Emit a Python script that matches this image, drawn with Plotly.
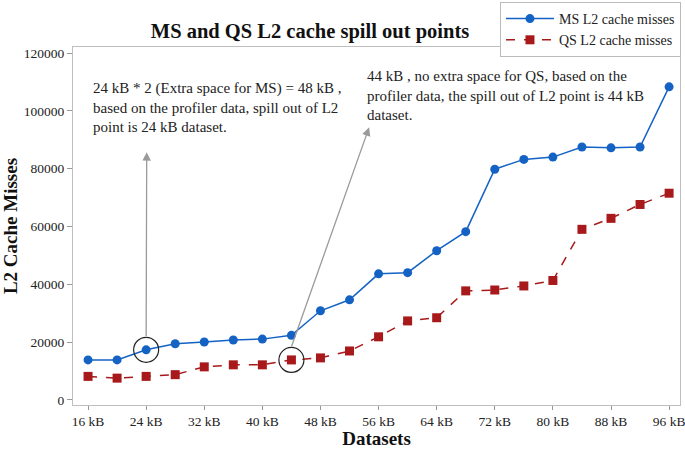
import plotly.graph_objects as go

datasets_kb = [16, 20, 24, 28, 32, 36, 40, 44, 48, 52, 56, 60, 64, 68, 72, 76, 80, 84, 88, 92, 96]
ms_misses = [13800, 13800, 17300, 19400, 20000, 20700, 21000, 22300, 30800, 34600, 43600, 44000,
             51600, 58200, 79800, 83200, 84000, 87500, 87200, 87500, 108300]
qs_misses = [8100, 7500, 8100, 8700, 11400, 12100, 12100, 13800, 14500, 16900, 21800, 27300,
             28400, 37700, 38000, 39400, 41300, 59000, 62800, 67600, 71500]
tick_vals = [16, 24, 32, 40, 48, 56, 64, 72, 80, 88, 96]
tick_text = [f"{v} kB" for v in tick_vals]
y_ticks = [0, 20000, 40000, 60000, 80000, 100000, 120000]

FONT = "Liberation Serif"

fig = go.Figure()
fig.add_trace(go.Scatter(
    x=datasets_kb, y=ms_misses, name="MS L2 cache misses", mode="lines+markers",
    line=dict(color="#1462C4", width=1.5),
    marker=dict(symbol="circle", size=9, color="#1462C4"),
))
fig.add_trace(go.Scatter(
    x=datasets_kb, y=qs_misses, name="QS L2 cache misses", mode="lines+markers",
    line=dict(color="#A8191C", width=1.5, dash="dash"),
    marker=dict(symbol="square", size=9, color="#A8191C"),
))

# circles around spill-out points
for xc, yc in [(datasets_kb[2], ms_misses[2]), (datasets_kb[7], qs_misses[7])]:
    fig.add_shape(type="circle", xref="x", yref="y", xsizemode="pixel", ysizemode="pixel",
                  xanchor=xc, yanchor=yc, x0=-12.5, x1=12.5, y0=-12.5, y1=12.5,
                  line=dict(color="#222222", width=1.2))

# arrows
fig.add_annotation(x=24.08, y=85700, ax=24.0, ay=21600, xref="x", yref="y", axref="x", ayref="y",
                   text="", showarrow=True, arrowhead=2, arrowsize=1.3, arrowwidth=1.3,
                   arrowcolor="#9a9a9a")
fig.add_annotation(x=54.7, y=94300, ax=43.95, ay=18000, xref="x", yref="y", axref="x", ayref="y",
                   text="", showarrow=True, arrowhead=2, arrowsize=1.3, arrowwidth=1.3,
                   arrowcolor="#9a9a9a")

fig.add_annotation(
    xref="paper", yref="paper", x=0.0297, y=0.913, xanchor="left", yanchor="top",
    text="24 kB * 2 (Extra space for MS) = 48 kB ,<br>based on the profiler data, spill out of L2<br>point is 24 kB dataset.",
    showarrow=False, align="left", font=dict(family=FONT, size=15, color="#222222"))
fig.add_annotation(
    xref="paper", yref="paper", x=0.481, y=0.947, xanchor="left", yanchor="top",
    text="44 kB , no extra space for QS, based on the<br>profiler data, the spill out of L2 point is 44 kB<br>dataset.",
    showarrow=False, align="left", font=dict(family=FONT, size=15, color="#222222"))

fig.update_layout(
    width=685, height=449,
    margin=dict(l=73, r=5, t=47, b=44, autoexpand=False),
    paper_bgcolor="white", plot_bgcolor="white",
    font=dict(family=FONT, size=13.5, color="#222222"),
    title=dict(text="<b>MS and QS L2 cache spill out points</b>", x=310/685, xanchor="center",
               y=1 - 31/449, yanchor="middle", font=dict(family=FONT, size=20.5, color="#111111")),
    legend=dict(x=1.0016, xanchor="right", y=(405 - 2) / 358, yanchor="top",
                bordercolor="#bbbbbb", borderwidth=1, bgcolor="white",
                font=dict(family=FONT, size=14, color="#222222"),
                tracegroupgap=0, itemwidth=48),
    showlegend=True,
)
fig.update_xaxes(
    range=[13.93, 97.5], tickmode="array", tickvals=tick_vals, ticktext=tick_text, automargin=False,
    ticklabeloverflow="allow",
    showgrid=False, zeroline=False, showline=True, mirror=True, linecolor="#bfbfbf", linewidth=1,
    ticks="outside", ticklen=4, tickcolor="#999999",
    title=dict(text="<b>Datasets</b>", font=dict(family=FONT, size=19, color="#111111"), standoff=5),
)
fig.update_yaxes(
    range=[-1800, 122100], tickmode="array", tickvals=y_ticks, ticktext=[str(v) for v in y_ticks],
    automargin=False,
    showgrid=False, zeroline=False, showline=True, mirror=True, linecolor="#bfbfbf", linewidth=1,
    ticks="outside", ticklen=5, tickcolor="#999999",
    title=dict(text="<b>L2 Cache Misses</b>", font=dict(family=FONT, size=19, color="#111111"), standoff=4),
)

fig.write_html("out.html", config={"displayModeBar": False},
               post_script="document.body.style.margin='0';")
